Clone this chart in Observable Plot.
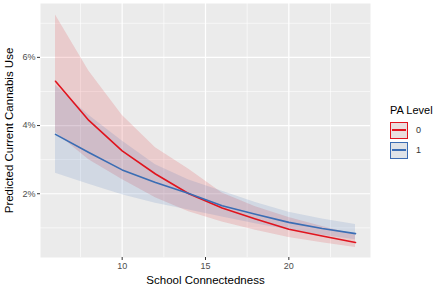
<!DOCTYPE html>
<html>
<head>
<meta charset="utf-8">
<script src="https://cdn.jsdelivr.net/npm/d3@7"></script>
<script src="https://cdn.jsdelivr.net/npm/@observablehq/plot@0.6"></script>
<style>
  html, body { margin: 0; padding: 0; background: #fff; }
  #wrap { position: relative; width: 447px; height: 287px; font-family: "Liberation Sans", Arial, sans-serif; }
  #legend { position: absolute; left: 390px; top: 104px; font-family: "Liberation Sans", Arial, sans-serif; }
  #legend .title { font-size: 11px; color: #000; margin-bottom: 4px; }
  #legend .item { display: flex; align-items: center; height: 20px; }
  #legend .key { width: 18px; height: 17px; background: #EBEBEB; position: relative; box-sizing: border-box; }
  #legend .key .fill { position: absolute; inset: 0; }
  #legend .key .ln { position: absolute; left: 1px; right: 1px; top: 50%; height: 1.5px; margin-top: -0.75px; }
  #legend .lab { font-size: 9px; color: #333; margin-left: 8px; }
</style>
</head>
<body>
<div id="wrap"></div>
<script>
const xValues = [6, 8, 10, 12, 14, 16, 18, 20, 22, 24];
const levels = ["0", "1"];
const levelColors = ["#e0141e", "#3a6db4"];
// predicted % (PA Level 0)
const pa0Mean = [5.30, 4.15, 3.26, 2.58, 2.00, 1.58, 1.26, 0.96, 0.76, 0.57];
const pa0Low  = [3.80, 3.00, 2.42, 1.88, 1.47, 1.17, 0.93, 0.72, 0.56, 0.42];
const pa0High = [7.24, 5.60, 4.30, 3.35, 2.72, 2.02, 1.62, 1.30, 1.04, 0.80];
// predicted % (PA Level 1)
const pa1Mean = [3.74, 3.21, 2.70, 2.33, 2.01, 1.65, 1.40, 1.16, 0.98, 0.83];
const pa1Low  = [2.60, 2.28, 1.97, 1.72, 1.52, 1.32, 1.12, 0.94, 0.78, 0.65];
const pa1High = [5.18, 4.30, 3.55, 2.85, 2.40, 2.07, 1.74, 1.46, 1.26, 1.10];
const xTicks = [10, 15, 20];
const xMinor = [7.5, 12.5, 17.5, 22.5];
const yTicks = [2, 4, 6];
const yMinor = [1, 3, 5, 7];
const xLabel = "School Connectedness";
const yLabel = "Predicted Current Cannabis Use";
const legendTitle = "PA Level";

const series = [
  {level: levels[0], mean: pa0Mean, lo: pa0Low, hi: pa0High},
  {level: levels[1], mean: pa1Mean, lo: pa1Low, hi: pa1High}
];
const rows = series.flatMap(s => xValues.map((x, i) => ({x, level: s.level, mean: s.mean[i], lo: s.lo[i], hi: s.hi[i]})));

const chart = Plot.plot({
  width: 447,
  height: 287,
  marginLeft: 40,
  marginRight: 77,
  marginTop: 3,
  marginBottom: 30,
  style: {fontFamily: "Liberation Sans, Arial, sans-serif", background: "white", overflow: "visible"},
  x: {domain: [5.1, 24.9]},
  y: {domain: [0.13, 7.58]},
  color: {domain: levels, range: levelColors},
  marks: [
    Plot.frame({fill: "#EBEBEB", stroke: null}),
    Plot.ruleX(xMinor, {stroke: "white", strokeWidth: 0.6}),
    Plot.ruleY(yMinor, {stroke: "white", strokeWidth: 0.6}),
    Plot.ruleX(xTicks, {stroke: "white", strokeWidth: 1.2}),
    Plot.ruleY(yTicks, {stroke: "white", strokeWidth: 1.2}),
    Plot.areaY(rows, {x: "x", y1: "lo", y2: "hi", fill: "level", fillOpacity: 0.15}),
    Plot.lineY(rows, {x: "x", y: "mean", stroke: "level", strokeWidth: 1.6}),
    Plot.axisX({ticks: xTicks, tickSize: 3, tickPadding: 2, fontSize: 9, fill: "#4d4d4d", stroke: "#333", label: null}),
    Plot.axisY({ticks: yTicks, tickSize: 3, tickPadding: 2, fontSize: 9, fill: "#4d4d4d", stroke: "#333", tickFormat: d => d + "%", label: null}),
    Plot.text([xLabel], {frameAnchor: "bottom", dy: 26, fontSize: 11.5, fill: "black"}),
    Plot.text([yLabel], {frameAnchor: "left", textAnchor: "middle", rotate: -90, dx: -31, fontSize: 11.5, fill: "black"})
  ]
});

const wrap = document.getElementById("wrap");
wrap.appendChild(chart);

const legend = document.createElement("div");
legend.id = "legend";
const t = document.createElement("div");
t.className = "title";
t.textContent = legendTitle;
legend.appendChild(t);
levels.forEach((lv, i) => {
  const item = document.createElement("div");
  item.className = "item";
  const key = document.createElement("div");
  key.className = "key";
  key.style.border = "1.3px solid " + levelColors[i];
  const f = document.createElement("div");
  f.className = "fill";
  f.style.background = levelColors[i];
  f.style.opacity = 0.06;
  const ln = document.createElement("div");
  ln.className = "ln";
  ln.style.background = levelColors[i];
  key.appendChild(f);
  key.appendChild(ln);
  const lab = document.createElement("span");
  lab.className = "lab";
  lab.textContent = lv;
  item.appendChild(key);
  item.appendChild(lab);
  legend.appendChild(item);
});
wrap.appendChild(legend);
</script>
</body>
</html>
